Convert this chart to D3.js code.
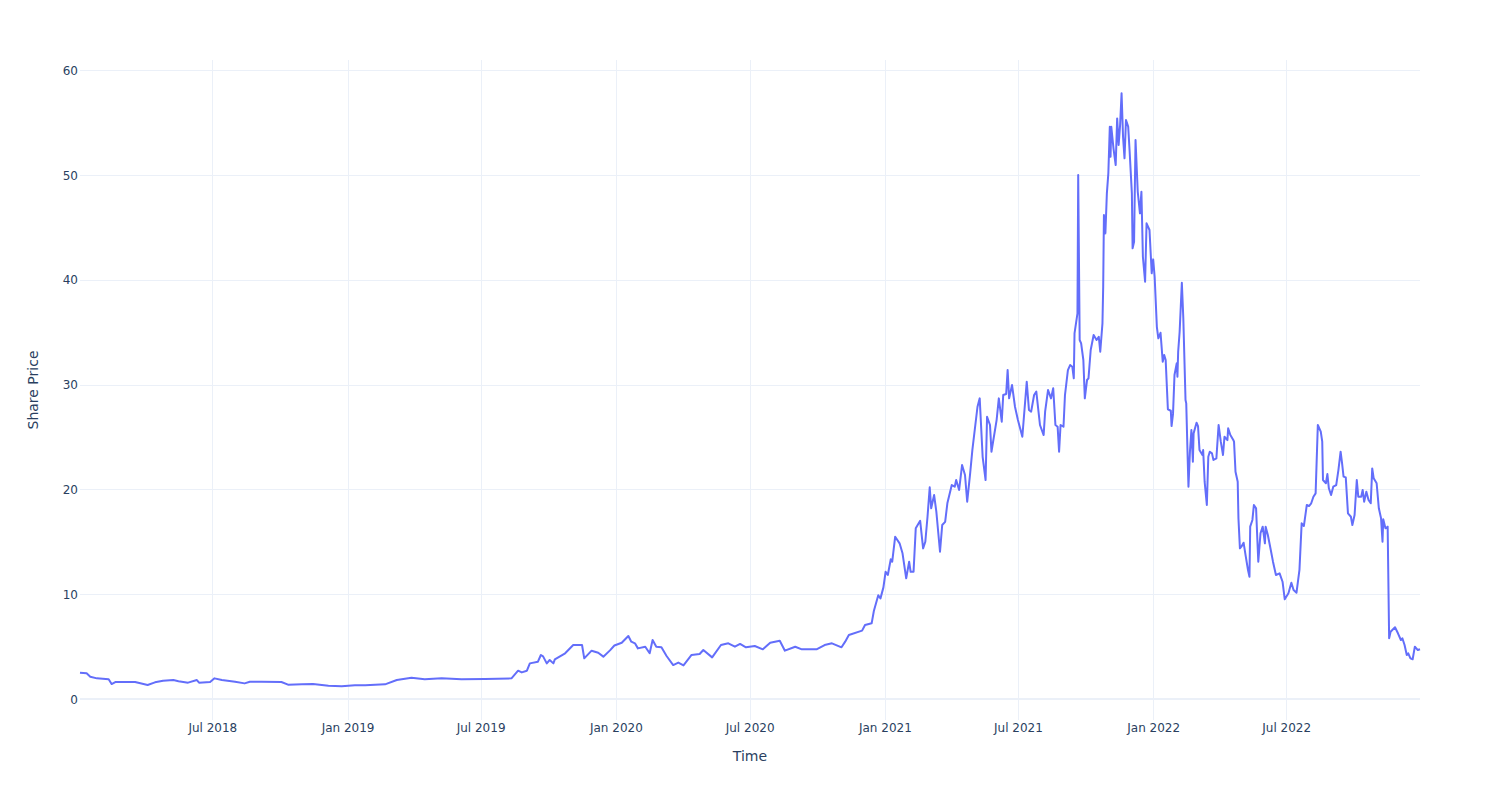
<!DOCTYPE html>
<html>
<head>
<meta charset="utf-8">
<script src="https://cdn.jsdelivr.net/npm/d3@7"></script>
<style>
  html, body { margin: 0; padding: 0; background: #fff; }
  svg { display: block; font-family: "DejaVu Sans", verdana, sans-serif; }
</style>
</head>
<body>
<svg id="chart" width="1500" height="800"></svg>
<script>
// ---- data ----
const dates = [
"2018-01-02","2018-01-11","2018-01-16","2018-01-25","2018-02-10","2018-02-14","2018-02-19","2018-03-18","2018-04-04","2018-04-14",
"2018-04-25","2018-05-09","2018-05-16","2018-05-29","2018-06-10","2018-06-13","2018-06-28","2018-07-04","2018-07-14","2018-08-01",
"2018-08-14","2018-08-21","2018-09-06","2018-10-03","2018-10-12","2018-10-31","2018-11-15","2018-12-06","2018-12-24","2019-01-11",
"2019-01-25","2019-02-21","2019-03-09","2019-03-29","2019-04-16","2019-05-09","2019-06-05","2019-07-07","2019-08-12","2019-08-21",
"2019-08-26","2019-09-02","2019-09-06","2019-09-17","2019-09-21","2019-09-24","2019-09-29","2019-10-03","2019-10-08","2019-10-10",
"2019-10-24","2019-11-04","2019-11-16","2019-11-19","2019-11-29","2019-12-08","2019-12-15","2019-12-24","2019-12-30","2020-01-09",
"2020-01-18","2020-01-22","2020-01-27","2020-01-31","2020-02-10","2020-02-16","2020-02-20","2020-02-25","2020-03-03","2020-03-10",
"2020-03-19","2020-03-26","2020-04-02","2020-04-13","2020-04-24","2020-04-29","2020-05-11","2020-05-23","2020-06-02","2020-06-11",
"2020-06-18","2020-06-26","2020-07-08","2020-07-19","2020-07-29","2020-08-11","2020-08-18","2020-09-01","2020-09-10","2020-09-30",
"2020-10-11","2020-10-21","2020-11-03","2020-11-08","2020-11-13","2020-12-01","2020-12-05","2020-12-14","2020-12-17","2020-12-23",
"2020-12-26","2020-12-30","2021-01-02","2021-01-05","2021-01-09","2021-01-11","2021-01-15","2021-01-21","2021-01-25","2021-01-30",
"2021-02-03","2021-02-05","2021-02-09","2021-02-12","2021-02-18","2021-02-22","2021-02-25","2021-02-28","2021-03-03","2021-03-05",
"2021-03-09","2021-03-12","2021-03-17","2021-03-20","2021-03-24","2021-03-27","2021-04-02","2021-04-06","2021-04-08","2021-04-12",
"2021-04-16","2021-04-20","2021-04-23","2021-04-27","2021-04-30","2021-05-07","2021-05-10","2021-05-14","2021-05-18","2021-05-20",
"2021-05-24","2021-05-26","2021-06-02","2021-06-05","2021-06-09","2021-06-11","2021-06-15","2021-06-17","2021-06-19","2021-06-23",
"2021-06-27","2021-07-01","2021-07-07","2021-07-13","2021-07-16","2021-07-19","2021-07-23","2021-07-26","2021-07-31","2021-08-05",
"2021-08-07","2021-08-11","2021-08-15","2021-08-18","2021-08-21","2021-08-24","2021-08-26","2021-08-28","2021-09-01","2021-09-03",
"2021-09-07","2021-09-10","2021-09-13","2021-09-15","2021-09-16","2021-09-20","2021-09-21","2021-09-23","2021-09-25","2021-09-28",
"2021-09-30","2021-10-03","2021-10-05","2021-10-08","2021-10-12","2021-10-16","2021-10-19","2021-10-21","2021-10-24","2021-10-25",
"2021-10-26","2021-10-28","2021-10-30","2021-11-01","2021-11-03","2021-11-04","2021-11-05","2021-11-08","2021-11-11","2021-11-13",
"2021-11-15","2021-11-17","2021-11-19","2021-11-21","2021-11-23","2021-11-25","2021-11-28","2021-11-30","2021-12-03","2021-12-04",
"2021-12-06","2021-12-08","2021-12-11","2021-12-14","2021-12-16","2021-12-18","2021-12-21","2021-12-23","2021-12-27","2021-12-30",
"2022-01-01","2022-01-03","2022-01-06","2022-01-08","2022-01-11","2022-01-14","2022-01-16","2022-01-18","2022-01-21","2022-01-25",
"2022-01-26","2022-01-28","2022-01-30","2022-02-02","2022-02-03","2022-02-04","2022-02-06","2022-02-09","2022-02-11","2022-02-14",
"2022-02-15","2022-02-17","2022-02-18","2022-02-20","2022-02-22","2022-02-24","2022-02-25","2022-03-01","2022-03-03","2022-03-05",
"2022-03-09","2022-03-10","2022-03-12","2022-03-15","2022-03-17","2022-03-19","2022-03-22","2022-03-24","2022-03-28","2022-03-31",
"2022-04-03","2022-04-06","2022-04-08","2022-04-12","2022-04-13","2022-04-16","2022-04-20","2022-04-21","2022-04-23","2022-04-26",
"2022-04-27","2022-04-29","2022-05-01","2022-05-04","2022-05-07","2022-05-10","2022-05-12","2022-05-13","2022-05-16","2022-05-18",
"2022-05-21","2022-05-22","2022-05-24","2022-05-27","2022-05-30","2022-06-02","2022-06-03","2022-06-06","2022-06-10","2022-06-13",
"2022-06-17","2022-06-22","2022-06-26","2022-06-29","2022-07-04","2022-07-08","2022-07-11","2022-07-15","2022-07-19","2022-07-22",
"2022-07-25","2022-07-29","2022-08-01","2022-08-04","2022-08-07","2022-08-10","2022-08-13","2022-08-17","2022-08-19","2022-08-20",
"2022-08-24","2022-08-26","2022-08-28","2022-08-31","2022-09-03","2022-09-07","2022-09-10","2022-09-13","2022-09-15","2022-09-17",
"2022-09-20","2022-09-23","2022-09-27","2022-09-29","2022-10-02","2022-10-05","2022-10-07","2022-10-11","2022-10-13","2022-10-15",
"2022-10-18","2022-10-21","2022-10-24","2022-10-26","2022-10-28","2022-11-01","2022-11-04","2022-11-07","2022-11-09","2022-11-10",
"2022-11-13","2022-11-16","2022-11-18","2022-11-20","2022-11-26","2022-11-30","2022-12-04","2022-12-06","2022-12-09","2022-12-12",
"2022-12-14","2022-12-17","2022-12-20","2022-12-23","2022-12-27","2022-12-30"
];
const prices = [
2.51,2.45,2.13,1.97,1.88,1.43,1.62,1.62,1.34,1.59,
1.75,1.81,1.69,1.56,1.81,1.56,1.62,1.97,1.81,1.65,
1.49,1.65,1.65,1.62,1.37,1.40,1.43,1.27,1.21,1.31,
1.31,1.40,1.81,2.03,1.88,1.97,1.88,1.92,1.97,2.70,
2.54,2.70,3.40,3.56,4.20,4.07,3.40,3.72,3.40,3.78,
4.36,5.15,5.15,3.88,4.61,4.42,4.04,4.64,5.10,5.37,
6.01,5.47,5.31,4.83,4.99,4.36,5.63,4.99,4.93,4.10,
3.24,3.47,3.21,4.20,4.29,4.67,3.97,5.15,5.31,4.99,
5.25,4.93,5.06,4.74,5.37,5.56,4.61,4.99,4.74,4.74,
5.15,5.31,4.93,5.47,6.10,6.52,7.06,7.22,8.40,9.90,
9.60,10.65,12.14,11.83,13.33,13.10,15.48,14.85,13.90,11.51,
13.10,12.14,12.14,16.28,17.00,14.37,15.00,17.39,20.19,18.19,
19.46,17.87,14.05,16.60,16.90,18.67,20.41,20.25,20.89,19.94,
22.32,21.37,18.82,21.53,23.75,27.88,28.68,23.11,20.89,26.93,
26.14,23.59,26.61,28.68,26.45,29.00,29.10,31.38,28.68,29.95,
27.88,26.61,25.02,30.27,27.57,27.41,29.00,29.32,26.14,25.18,
27.41,29.48,28.68,29.64,26.14,25.98,23.59,26.14,25.98,29.00,
31.38,31.86,31.70,30.59,34.88,36.79,49.99,34.25,33.93,32.34,
28.68,30.43,30.59,33.29,34.72,34.25,34.56,33.13,35.84,39.33,
46.17,44.42,48.24,50.15,54.60,51.73,54.60,52.53,50.94,55.39,
52.85,54.76,57.78,53.64,51.58,55.23,54.60,52.21,48.24,42.99,
43.62,53.33,48.39,46.33,48.39,42.19,39.81,45.38,44.74,40.61,
41.94,40.28,35.51,34.41,34.94,32.18,32.82,32.34,27.64,27.50,
26.04,27.20,30.91,32.02,30.75,33.13,35.04,39.71,36.32,28.52,
28.20,22.80,20.25,23.59,25.66,22.64,25.34,26.36,26.04,23.75,
23.28,23.75,20.73,18.51,23.11,23.59,23.43,22.80,22.96,26.14,
24.55,23.28,25.02,24.70,25.82,25.18,24.71,24.55,21.68,20.73,
17.24,14.37,14.53,14.91,13.58,12.31,11.67,16.44,17.08,18.51,
18.19,16.44,13.10,15.81,16.44,14.85,16.44,15.64,14.21,13.10,
11.83,11.99,11.19,9.51,10.08,11.09,10.40,10.14,12.31,16.76,
16.50,18.51,18.41,18.67,19.30,19.62,26.14,25.50,24.55,20.89,
20.58,21.46,20.10,19.46,20.25,20.41,21.84,23.59,22.48,21.21,
21.14,17.71,17.39,16.60,17.55,20.89,19.30,19.30,19.94,18.82,
19.78,18.98,18.67,22.00,21.05,20.58,18.19,17.24,15.00,17.14,
16.28,16.44,5.79,6.42,6.84,6.27,5.63,5.79,5.15,4.20,
4.36,3.88,3.79,4.99,4.67,4.75
];
const xTickDates = ["2018-07-01","2019-01-01","2019-07-01","2020-01-01","2020-07-01","2021-01-01","2021-07-01","2022-01-01","2022-07-01"];
const xTickLabels = ["Jul 2018","Jan 2019","Jul 2019","Jan 2020","Jul 2020","Jan 2021","Jul 2021","Jan 2022","Jul 2022"];
const yTicks = [0, 10, 20, 30, 40, 50, 60];
const xTitle = "Time";
const yTitle = "Share Price";

// ---- drawing ----
(function () {
const parse = d3.timeParse("%Y-%m-%d");
const data = dates.map((d, i) => ({ date: parse(d), value: prices[i] }));

const mLeft = 80, mRight = 1420, mTop = 60, mBottom = 720;
const svg = d3.select("#chart");

const x = d3.scaleTime()
  .domain([parse("2018-01-02"), parse("2022-12-30")])
  .range([mLeft, mRight]);
const y = d3.scaleLinear()
  .domain([-2.003, 60.96])
  .range([mBottom, mTop]);

const gridColor = "#ebf0f8";
const textColor = "#2a3f5f";
const font = '"DejaVu Sans", verdana, sans-serif';

// vertical grid
svg.append("g")
  .selectAll("line")
  .data(xTickDates.map(parse))
  .join("line")
  .attr("x1", d => Math.round(x(d)) + 0.5).attr("x2", d => Math.round(x(d)) + 0.5)
  .attr("y1", mTop).attr("y2", mBottom)
  .attr("stroke", gridColor).attr("stroke-width", 1);

// horizontal grid
svg.append("g")
  .selectAll("line")
  .data(yTicks.filter(t => t !== 0))
  .join("line")
  .attr("x1", mLeft).attr("x2", mRight)
  .attr("y1", d => Math.round(y(d)) + 0.5).attr("y2", d => Math.round(y(d)) + 0.5)
  .attr("stroke", gridColor).attr("stroke-width", 1);

// zero line
svg.append("line")
  .attr("x1", mLeft).attr("x2", mRight)
  .attr("y1", y(0)).attr("y2", y(0))
  .attr("stroke", gridColor).attr("stroke-width", 2);

// x axis labels
const xAxis = d3.axisBottom(x)
  .tickValues(xTickDates.map(parse))
  .tickFormat((d, i) => xTickLabels[i])
  .tickSize(0).tickPadding(0);
const gx = svg.append("g").attr("transform", `translate(0,${mBottom})`).call(xAxis);
gx.select(".domain").remove();
gx.selectAll("text")
  .attr("y", 12).attr("dy", null)
  .attr("fill", textColor).attr("font-size", 12)
  .attr("font-family", font);

// y axis labels
const yAxis = d3.axisLeft(y).tickValues(yTicks).tickSize(0).tickPadding(0);
const gy = svg.append("g").attr("transform", `translate(${mLeft},0)`).call(yAxis);
gy.select(".domain").remove();
gy.selectAll("text")
  .attr("x", -2).attr("dy", "0.35em")
  .attr("fill", textColor).attr("font-size", 12)
  .attr("font-family", font);

// line
const line = d3.line()
  .x(d => x(d.date))
  .y(d => y(d.value));
svg.append("path")
  .datum(data)
  .attr("d", line)
  .attr("fill", "none")
  .attr("stroke", "#636efa")
  .attr("stroke-width", 2)
  .attr("stroke-linejoin", "round");

// axis titles
svg.append("text")
  .attr("x", (mLeft + mRight) / 2).attr("y", 761)
  .attr("text-anchor", "middle")
  .attr("fill", textColor).attr("font-size", 14)
  .attr("font-family", font)
  .text(xTitle);
svg.append("text")
  .attr("transform", `translate(38,${(mTop + mBottom) / 2}) rotate(-90)`)
  .attr("text-anchor", "middle")
  .attr("fill", textColor).attr("font-size", 14)
  .attr("font-family", font)
  .text(yTitle);
})();
</script>
</body>
</html>
